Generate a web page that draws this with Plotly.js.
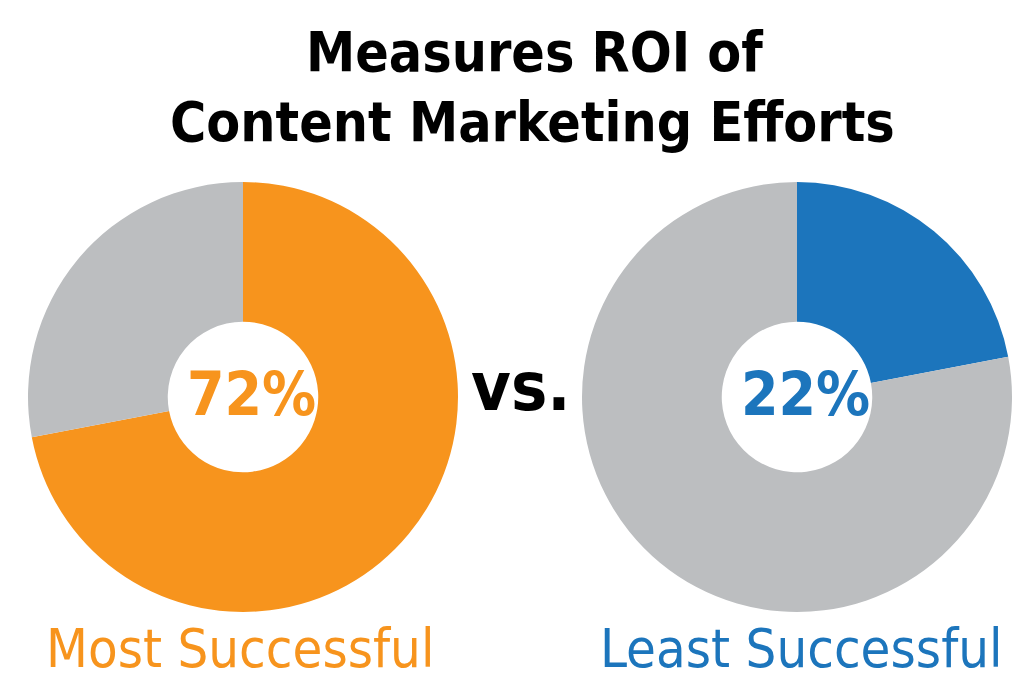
<!DOCTYPE html>
<html><head><meta charset="utf-8">
<script src="https://cdn.plot.ly/plotly-3.0.1.min.js"></script>
<style>html,body{margin:0;padding:0;background:#fff}#chart{width:1024px;height:684px}</style>
</head><body><div id="chart"></div>
<script>
const groups = ["Most Successful", "Least Successful"];
const sliceLabels = ["Measures ROI", "Does not"];
const mostValues = [72, 28];
const leastValues = [22, 78];
const centerTexts = ["72%", "22%"];
const titleLines = ["Measures ROI of", "Content Marketing Efforts"];

const orange = "#F7941D", blue = "#1C75BC", gray = "#BCBEC0";
const W = 1024, H = 684;
function dom(cx, cy, r){ return {x:[(cx-r)/W,(cx+r)/W], y:[(H-cy-r)/H,(H-cy+r)/H]}; }
function px(x){ return x/W; } function py(y){ return (H-y)/H; }

const traces = [
  {type:"pie", labels:sliceLabels, values:mostValues, hole:0.35, sort:false, direction:"clockwise", rotation:0,
   marker:{colors:[orange, gray]}, textinfo:"none", hoverinfo:"label+percent", domain:dom(243,397,215), showlegend:false},
  {type:"pie", labels:sliceLabels, values:leastValues, hole:0.35, sort:false, direction:"clockwise", rotation:0,
   marker:{colors:[blue, gray]}, textinfo:"none", hoverinfo:"label+percent", domain:dom(797,397,215), showlegend:false}
];
const font = "Liberation Sans Narrow, DejaVu Sans Condensed, Open Sans, sans-serif";
function ann(text, x, y, size, color){
  return {text:text, x:px(x), y:py(y), xref:"paper", yref:"paper", xanchor:"center", yanchor:"middle",
          showarrow:false, font:{family:font, size:size, color:color}};
}
const layout = {
  width:W, height:H, margin:{l:0,r:0,t:0,b:0}, paper_bgcolor:"#fff",
  annotations:[
    ann("<b>"+titleLines[0]+"</b>", 534, 52, 55, "#000"),
    ann("<b>"+titleLines[1]+"</b>", 532, 122, 55, "#000"),
    ann("<b>"+centerTexts[0]+"</b>", 251, 394, 60, orange),
    ann("<b>"+centerTexts[1]+"</b>", 805, 394, 60, blue),
    ann("<b>vs.</b>", 521, 386, 68, "#000"),
    ann(groups[0], 240, 648, 54, orange),
    ann(groups[1], 801, 648, 54, blue)
  ]
};
Plotly.newPlot("chart", traces, layout, {displayModeBar:false, staticPlot:true});
</script></body></html>
